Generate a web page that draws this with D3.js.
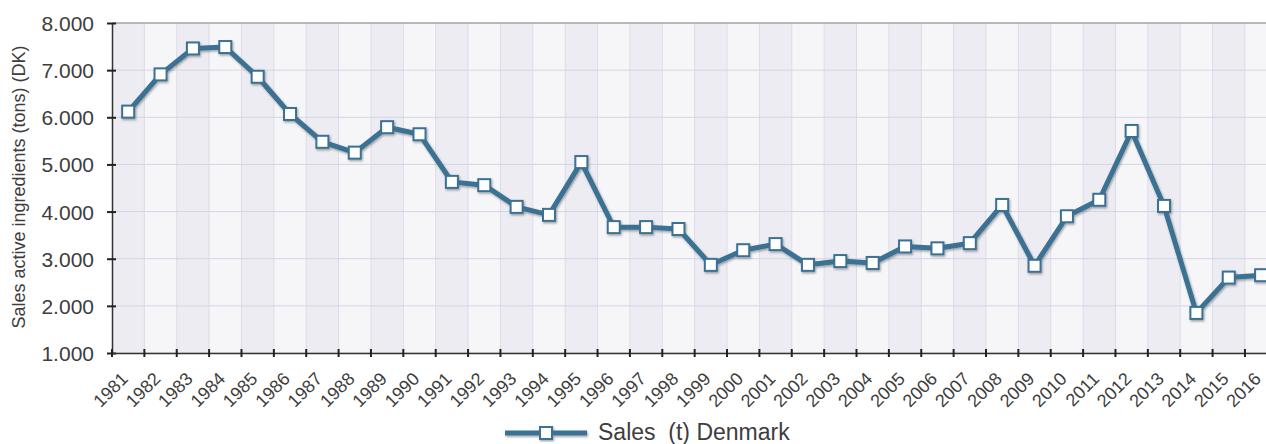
<!DOCTYPE html>
<html><head><meta charset="utf-8">
<script src="https://cdn.jsdelivr.net/npm/d3@7"></script>
<style>
html,body{margin:0;padding:0;background:#fff;overflow:hidden;}
text{font-family:"Liberation Sans",Arial,sans-serif;fill:#3d3d3d;}
</style></head>
<body><svg id="c" width="1266" height="444"></svg>
<script>
const years = [1981,1982,1983,1984,1985,1986,1987,1988,1989,1990,1991,1992,1993,1994,1995,1996,1997,1998,1999,2000,2001,2002,2003,2004,2005,2006,2007,2008,2009,2010,2011,2012,2013,2014,2015,2016];
const sales = [6120,6910,7460,7490,6860,6070,5480,5250,5790,5640,4630,4560,4100,3930,5050,3670,3670,3630,2870,3180,3310,2870,2950,2910,3260,3220,3330,4140,2850,3900,4250,5710,4120,1850,2600,2650];
const yTicks = [1000,2000,3000,4000,5000,6000,7000,8000];
const seriesName = "Sales  (t) Denmark";
const yTitle = "Sales active ingredients (tons) (DK)";

const svg = d3.select("#c");
const L = 112, T = 23, B = 353, R = 112 + 36*32.37;
const lineColor = "#3b7193";

const x = d3.scaleBand().domain(years).range([L, R]).padding(0);
const y = d3.scaleLinear().domain([1000, 8000]).range([B, T]);

const defs = svg.append("defs");
const f = defs.append("filter").attr("id","sh").attr("x","-10%").attr("y","-10%").attr("width","120%").attr("height","130%");
f.append("feDropShadow").attr("dx",1).attr("dy",1.5).attr("stdDeviation",1.2).attr("flood-color","#000").attr("flood-opacity",0.35);

// alternating bands
svg.append("g").selectAll("rect").data(years).join("rect")
  .attr("x", d => x(d)).attr("y", T).attr("width", x.bandwidth()).attr("height", B - T)
  .attr("fill", (d,i) => i % 2 === 0 ? "#ececf2" : "#f6f6f8");

// vertical grid lines
svg.append("g").selectAll("line").data(years.slice(1)).join("line")
  .attr("x1", d => x(d)).attr("x2", d => x(d)).attr("y1", T).attr("y2", B)
  .attr("stroke", "#dcdce8").attr("stroke-width", 1);

// horizontal grid
svg.append("g").selectAll("line").data(yTicks).join("line")
  .attr("x1", L).attr("x2", R).attr("y1", d => y(d)).attr("y2", d => y(d))
  .attr("stroke", "#d4d4e8").attr("stroke-width", 1);

// top border
svg.append("line").attr("x1", L).attr("x2", R).attr("y1", T).attr("y2", T).attr("stroke", "#8a8a8a").attr("stroke-width", 1.2);

// y axis
const yAxis = d3.axisLeft(y).tickValues(yTicks).tickSize(0).tickPadding(0)
  .tickFormat(d => d3.format(",")(d).replace(/,/g, "."));
const gy = svg.append("g").attr("transform", `translate(${L},0)`).call(yAxis);
gy.select(".domain").attr("stroke", "#333").attr("stroke-width", 1.5);
gy.selectAll("text").attr("x", -18).attr("dy", "0.36em").style("font-size", "21px").attr("fill", "#3d3d3d");
gy.selectAll(".tick").append("line").attr("x1", -5).attr("x2", 4).attr("stroke", "#222").attr("stroke-width", 2);

// x axis
const xAxis = d3.axisBottom(x).tickSize(0).tickFormat(d => d);
const gx = svg.append("g").attr("transform", `translate(0,${B})`).call(xAxis);
gx.select(".domain").attr("stroke", "#333").attr("stroke-width", 1.5);
gx.selectAll(".tick text")
  .attr("text-anchor", "end").attr("y", 0).attr("dy", 0)
  .attr("transform", `translate(1,27) rotate(-45)`)
  .style("font-size", "18px").attr("fill", "#3d3d3d");
// boundary ticks
svg.append("g").selectAll("line").data(years).join("line")
  .attr("x1", d => x(d)).attr("x2", d => x(d)).attr("y1", B - 4).attr("y2", B + 4)
  .attr("stroke", "#222").attr("stroke-width", 2);

// y title
svg.append("text").attr("transform", `translate(25,187) rotate(-90)`)
  .attr("text-anchor", "middle").style("font-size", "18px").text(yTitle);

// line
const line = d3.line().x((d,i) => x(years[i]) + x.bandwidth()/2).y(d => y(d));
const gl = svg.append("g").attr("filter", "url(#sh)");
gl.append("path").datum(sales).attr("d", line).attr("fill", "none")
  .attr("stroke", lineColor).attr("stroke-width", 5).attr("stroke-linejoin", "round");
gl.selectAll("rect").data(sales).join("rect")
  .attr("x", (d,i) => x(years[i]) + x.bandwidth()/2 - 6)
  .attr("y", d => y(d) - 6).attr("width", 12).attr("height", 12)
  .attr("fill", "#fff").attr("stroke", lineColor).attr("stroke-width", 2);

// legend
const lg = svg.append("g").attr("filter", "url(#sh)");
lg.append("line").attr("x1", 505).attr("x2", 587).attr("y1", 433).attr("y2", 433)
  .attr("stroke", lineColor).attr("stroke-width", 5);
lg.append("rect").attr("x", 540).attr("y", 427).attr("width", 12).attr("height", 12)
  .attr("fill", "#fff").attr("stroke", lineColor).attr("stroke-width", 2);
svg.append("text").attr("x", 598).attr("y", 440).style("font-size", "23px")
  .style("white-space", "pre").text(seriesName);
</script></body></html>
